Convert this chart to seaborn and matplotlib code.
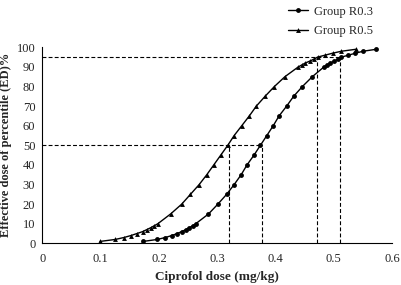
import pandas as pd
import matplotlib.pyplot as plt
import seaborn as sns
from matplotlib.ticker import MultipleLocator, FuncFormatter

# percentile levels (ED%)
ed = [1, 2, 3, 4, 5, 6, 7, 8, 9, 10, 15, 20, 25, 30, 35, 40, 45, 50, 55, 60,
      65, 70, 75, 80, 85, 90, 91, 92, 93, 94, 95, 96, 97, 98, 99]

# dose (mg/kg) for each percentile
dose_r03 = [0.173, 0.197, 0.211, 0.222, 0.231, 0.239, 0.246, 0.252, 0.258, 0.263,
            0.285, 0.301, 0.316, 0.329, 0.341, 0.351, 0.363, 0.374, 0.385, 0.396,
            0.406, 0.419, 0.431, 0.446, 0.463, 0.483, 0.489, 0.494, 0.501, 0.507,
            0.513, 0.525, 0.537, 0.550, 0.573]
dose_r05 = [0.099, 0.125, 0.140, 0.152, 0.162, 0.172, 0.179, 0.186, 0.192, 0.198,
            0.220, 0.239, 0.254, 0.269, 0.282, 0.294, 0.306, 0.318, 0.329, 0.342,
            0.355, 0.367, 0.382, 0.398, 0.416, 0.439, 0.445, 0.451, 0.459, 0.466,
            0.472, 0.485, 0.498, 0.513, 0.538]

# reference lines: ED50 and ED95 of each group
ed50 = [0.320, 0.376]
ed95 = [0.471, 0.511]

df = pd.DataFrame({
    'ED': ed * 2,
    'dose': dose_r03 + dose_r05,
    'group': ['Group R0.3'] * len(ed) + ['Group R0.5'] * len(ed),
})

sns.set_style('white')
plt.rcParams['font.family'] = ['Liberation Serif', 'DejaVu Serif']

fig = plt.figure(figsize=(4.01, 2.85), dpi=100)
ax = fig.add_axes([0.1055, 0.146, 0.8725, 0.688])

sns.lineplot(data=df[df.group == 'Group R0.3'], x='dose', y='ED', ax=ax,
             color='black', marker='o', markersize=3.5, markeredgewidth=0,
             linewidth=1.0, label='Group R0.3', sort=False)
sns.lineplot(data=df[df.group == 'Group R0.5'], x='dose', y='ED', ax=ax,
             color='black', marker='^', markersize=3.5, markeredgewidth=0,
             linewidth=1.0, label='Group R0.5', sort=False)

dash = dict(color='black', linestyle=(0, (3.5, 2)), linewidth=0.8)
ax.plot([0, max(ed50)], [50, 50], **dash)
ax.plot([0, max(ed95)], [95, 95], **dash)
for v in ed50:
    ax.plot([v, v], [0, 50], **dash)
for v in ed95:
    ax.plot([v, v], [0, 95], **dash)

ax.set_xlim(0, 0.6)
ax.set_ylim(0, 100)
ax.xaxis.set_major_locator(MultipleLocator(0.1))
ax.xaxis.set_minor_locator(MultipleLocator(0.05))
ax.yaxis.set_major_locator(MultipleLocator(10))
ax.yaxis.set_minor_locator(MultipleLocator(5))
ax.xaxis.set_major_formatter(FuncFormatter(lambda v, p: '0' if abs(v) < 1e-9 else f'{v:.1f}'))
ax.tick_params(which='both', direction='in', color='black', labelsize=9, pad=5)
ax.tick_params(which='major', length=4, width=0.8)
ax.tick_params(which='minor', length=3, width=0.8)
ax.tick_params(axis='x', pad=7)
for s in ['top', 'right']:
    ax.spines[s].set_visible(False)
for s in ['left', 'bottom']:
    ax.spines[s].set_color('black')
    ax.spines[s].set_linewidth(0.8)

ax.set_xlabel('Ciprofol dose (mg/kg)', fontsize=9.5, fontweight='bold', labelpad=4)
ax.set_ylabel('Effective dose of percentile (ED)%', fontsize=9, fontweight='bold', labelpad=3)

ax.legend(loc='upper left', bbox_to_anchor=(0.69, 1.02), bbox_transform=fig.transFigure,
          frameon=False, fontsize=9, handlelength=1.6, labelspacing=0.6, handletextpad=0.5)

fig.savefig('out.png', dpi=100)
